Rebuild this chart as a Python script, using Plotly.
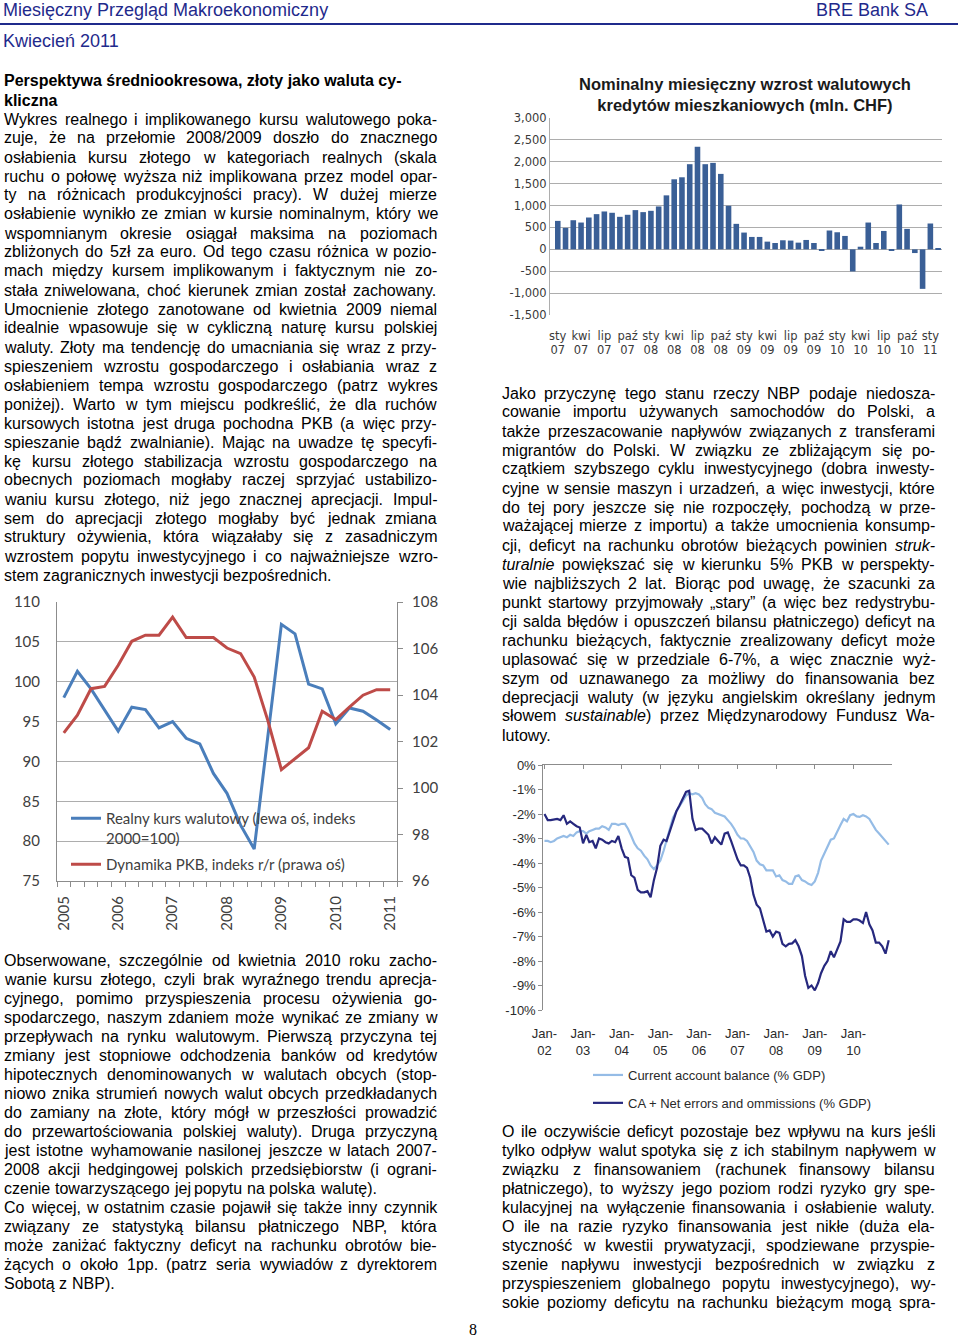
import plotly.graph_objects as go
import pandas as pd

FIG_W, FIG_H = 960, 1338


def px(x):
    return x / FIG_W


def py(y):
    return 1 - y / FIG_H


# ---------------- DATA ----------------
# Chart 1: monthly FX mortgage loan growth (mln CHF), Jan 2007 - Feb 2011
PL_MONTHS = ["sty", "lut", "mar", "kwi", "maj", "cze", "lip", "sie", "wrz", "paź", "lis", "gru"]
loan_labels = [f"{PL_MONTHS[i % 12]} {7 + i // 12:02d}" for i in range(50)]
loan_growth = [650, 490, 665, 612, 727, 804, 865, 835, 743, 789, 896, 850,
               880, 980, 1233, 1600, 1646, 1945, 2343, 1945, 1975, 1723, 995, 582,
               383, 283, 283, 176, 145, 207, 200, 153, 214, 145, -20, 430,
               390, 306, -505, 60, 612, 145, 420, -20, 1025, 467, -85, -903,
               590, 15]
loan_yticks = [-1500, -1000, -500, 0, 500, 1000, 1500, 2000, 2500, 3000]
loan_yticktext = ["-1,500", "-1,000", "-500", "0", "500", "1,000", "1,500", "2,000", "2,500", "3,000"]

# Chart 2: quarterly real FX rate (left) and GDP y/y index (right), 2005Q1 - 2011Q1
quarters = [f"{y}Q{q}" for y in range(2005, 2012) for q in range(1, 5)][:25]
real_fx = [98.0, 101.3, 99.1, 96.4, 93.8, 96.8, 96.5, 94.2, 95.0, 92.9, 92.2, 88.5,
           86.0, 82.0, 79.0, 93.1, 107.2, 106.0, 99.7, 99.1, 94.7, 96.7, 96.3, 95.2, 94.0]
gdp_index = [102.37, 103.13, 104.27, 104.37, 105.28, 106.31, 106.57, 106.57, 107.35,
             106.47, 106.47, 106.47, 106.02, 105.78, 104.77, 102.91, 100.79, 101.26,
             101.73, 103.30, 102.94, 103.48, 103.99, 104.23, 104.23]
year_labels = ["2005", "2006", "2007", "2008", "2009", "2010", "2011"]

# Chart 3: monthly current account (% GDP), Jan 2002 - Dec 2010
ca_balance = [-3.1, -3.1, -3.15, -3.1, -3.0, -2.95, -2.9, -2.95, -2.85, -2.9, -2.75, -2.7,
              -2.7, -2.8, -2.7, -2.65, -2.6, -2.6, -2.5, -2.55, -2.65, -2.4, -2.4, -2.45,
              -2.4, -2.4, -2.6, -2.9, -3.2, -3.4, -3.5, -3.7, -3.85, -4.1, -4.25, -4.1,
              -3.9, -3.5, -3.05, -2.55, -2.15, -1.9, -1.7, -1.45, -1.25, -1.15, -1.2, -1.15,
              -1.2, -1.35, -1.6, -1.75, -1.8, -1.95, -2.0, -2.05, -2.1, -2.25, -2.4, -2.6,
              -2.85, -3.0, -3.0, -3.1, -3.3, -3.55, -3.9, -4.05, -4.1, -4.3, -4.3, -4.3,
              -4.55, -4.5, -4.7, -4.75, -4.85, -4.85, -4.55, -4.5, -4.7, -4.75, -4.85, -4.9,
              -4.75, -4.4, -3.9, -3.6, -3.3, -3.05, -3.0, -2.7, -2.45, -2.2, -2.3, -2.05,
              -2.0, -2.1, -2.12, -2.05, -2.1, -2.2, -2.4, -2.65, -2.8, -2.95, -3.1, -3.25]
ca_errors = [-2.0, -2.25, -2.25, -2.22, -2.2, -2.25, -2.05, -2.4, -2.3, -2.4, -2.5, -2.55,
             -3.2, -2.85, -3.15, -3.1, -3.4, -3.0, -3.05, -3.15, -3.2, -3.1, -3.15, -2.9,
             -3.4, -3.75, -3.8, -4.5, -4.6, -5.1, -5.2, -5.2, -5.15, -5.4, -4.7, -4.2,
             -3.3, -3.05, -3.1, -2.7, -2.3, -1.9, -1.65, -1.4, -1.1, -1.05, -2.2, -2.65,
             -2.6, -2.6, -2.7, -2.85, -3.2, -2.95, -3.1, -3.25, -2.8, -2.75, -3.1, -3.5,
             -3.85, -4.1, -4.1, -4.2, -4.6, -5.3, -5.7, -5.85, -6.3, -6.8, -6.75, -7.0,
             -6.8, -6.85, -7.3, -7.4, -7.3, -7.28, -7.15, -7.4, -7.8, -8.6, -9.1, -9.0,
             -9.2, -8.9, -8.5, -8.2, -8.0, -7.6, -7.85, -7.5, -7.2, -6.3, -6.4, -6.4,
             -6.3, -6.3, -6.35, -6.45, -6.0, -6.5, -6.75, -7.25, -7.25, -7.4, -7.7, -7.15]
ca_dates = pd.date_range("2002-01-01", periods=len(ca_balance), freq="MS")
ca_year_ticks = [d.strftime("%Y-%m-%d") for d in pd.date_range("2002-01-01", "2011-01-01", freq="YS")]
ca_xlabels = ["Jan-<br>02", "Jan-<br>03", "Jan-<br>04", "Jan-<br>05", "Jan-<br>06",
              "Jan-<br>07", "Jan-<br>08", "Jan-<br>09", "Jan-<br>10"]
ca_yticks = [0, -1, -2, -3, -4, -5, -6, -7, -8, -9, -10]
ca_yticktext = ["0%", "-1%", "-2%", "-3%", "-4%", "-5%", "-6%", "-7%", "-8%", "-9%", "-10%"]

# ---------------- TEXT ----------------
heading = ["Perspektywa średniookresowa, złoty jako waluta cy-", "kliczna"]
left_par1 = [
    "Wykres realnego i implikowanego kursu walutowego poka-",
    "zuje, że na przełomie 2008/2009 doszło do znacznego",
    "osłabienia kursu złotego w kategoriach realnych (skala",
    "ruchu o połowę wyższa niż implikowana przez model opar-",
    "ty na różnicach produkcyjności pracy). W dużej mierze",
    "osłabienie wynikło ze zmian w kursie nominalnym, który we",
    "wspomnianym okresie osiągał maksima na poziomach",
    "zbliżonych do 5zł za euro. Od tego czasu różnica w pozio-",
    "mach między kursem implikowanym i faktycznym nie zo-",
    "stała zniwelowana, choć kierunek zmian został zachowany.",
    "Umocnienie złotego zanotowane od kwietnia 2009 niemal",
    "idealnie wpasowuje się w cykliczną naturę kursu polskiej",
    "waluty. Złoty ma tendencję do umacniania się wraz z przy-",
    "spieszeniem wzrostu gospodarczego i osłabiania wraz z",
    "osłabieniem tempa wzrostu gospodarczego (patrz wykres",
    "poniżej). Warto w tym miejscu podkreślić, że dla ruchów",
    "kursowych istotna jest druga pochodna PKB (a więc przy-",
    "spieszanie bądź zwalnianie).  Mając na uwadze tę specyfi-",
    "kę kursu złotego stabilizacja wzrostu gospodarczego na",
    "obecnych poziomach mogłaby raczej sprzyjać ustabilizo-",
    "waniu kursu złotego, niż jego znacznej aprecjacji. Impul-",
    "sem do aprecjacji złotego mogłaby być jednak zmiana",
    "struktury ożywienia, która wiązałaby się z zasadniczym",
    "wzrostem popytu inwestycyjnego i co najważniejsze wzro-",
    "stem zagranicznych inwestycji  bezpośrednich.",
]
left_par2 = [
    "Obserwowane, szczególnie od kwietnia 2010 roku zacho-",
    "wanie kursu złotego, czyli brak wyraźnego trendu aprecja-",
    "cyjnego, pomimo przyspieszenia procesu ożywienia go-",
    "spodarczego, naszym zdaniem może wynikać ze zmiany w",
    "przepływach na rynku walutowym.  Pierwszą przyczyna tej",
    "zmiany jest stopniowe odchodzenia banków od kredytów",
    "hipotecznych denominowanych w walutach obcych (stop-",
    "niowo znika strumień nowych walut obcych przedkładanych",
    "do zamiany na złote, który mógł w przeszłości prowadzić",
    "do przewartościowania polskiej waluty). Druga przyczyną",
    "jest istotne wyhamowanie nasilonej jeszcze w latach 2007-",
    "2008 akcji hedgingowej polskich przedsiębiorstw (i ograni-",
    "czenie towarzyszącego jej popytu na polska walutę).",
]
left_par3 = [
    "Co więcej, w ostatnim czasie pojawił się także inny czynnik",
    "związany ze statystyką bilansu płatniczego NBP, która",
    "może zaniżać faktyczny deficyt na rachunku obrotów bie-",
    "żących o około 1pp. (patrz seria wywiadów z dyrektorem",
    "Sobotą z NBP).",
]
right_par1 = [
    "Jako przyczynę tego stanu rzeczy NBP podaje niedosza-",
    "cowanie importu używanych samochodów do Polski, a",
    "także przeszacowanie napływów związanych z transferami",
    "migrantów do Polski.  W związku ze zbliżającym się po-",
    "czątkiem szybszego cyklu inwestycyjnego (dobra inwesty-",
    "cyjne w sensie maszyn i urzadzeń, a więc inwestycji, które",
    "do tej pory jeszcze się nie rozpoczęły, pochodzą w prze-",
    "ważającej mierze z importu) a także umocnienia konsump-",
    "cji, deficyt na rachunku obrotów bieżących powinien <i>struk-</i>",
    "<i>turalnie</i> powiększać się w kierunku 5% PKB w perspekty-",
    "wie najbliższych 2 lat. Biorąc pod uwagę, że szacunki za",
    "punkt startowy przyjmowały „stary” (a więc bez redystrybu-",
    "cji salda błędów i opuszczeń bilansu płatniczego) deficyt na",
    "rachunku bieżących, faktycznie zrealizowany deficyt może",
    "uplasować się w przedziale 6-7%, a więc znacznie wyż-",
    "szym od uznawanego za możliwy do finansowania bez",
    "deprecjacji waluty (w języku angielskim określany jednym",
    "słowem <i>sustainable</i>) przez Międzynarodowy Fundusz Wa-",
    "lutowy.",
]
right_par2 = [
    "O ile oczywiście deficyt pozostaje bez wpływu na  kurs jeśli",
    "tylko odpływ walut spotyka się z ich stabilnym napływem w",
    "związku z finansowaniem (rachunek finansowy bilansu",
    "płatniczego), to wyższy jego poziom rodzi ryzyko gry spe-",
    "kulacyjnej na wyłączenie finansowania i osłabienie waluty.",
    "O ile na razie ryzyko finansowania jest nikłe (duża ela-",
    "styczność w kwestii prywatyzacji, spodziewane przyspie-",
    "szenie napływu inwestycji bezpośrednich w związku z",
    "przyspieszeniem globalnego popytu inwestycyjnego), wy-",
    "sokie poziomy deficytu na rachunku bieżącym mogą spra-",
]

# Arial / Liberation Sans advance widths (1/1000 em)
AW = {" ": 278, "!": 278, '"': 355, "%": 889, "&": 667, "'": 191, "(": 333, ")": 333,
      ",": 278, "-": 333, ".": 278, "/": 278, ":": 278, ";": 278, "?": 556,
      "A": 667, "B": 667, "C": 722, "D": 722, "E": 667, "F": 611, "G": 778, "H": 722,
      "I": 278, "J": 500, "K": 667, "L": 556, "M": 833, "N": 722, "O": 778, "P": 667,
      "Q": 778, "R": 722, "S": 667, "T": 611, "U": 722, "V": 667, "W": 944, "X": 667,
      "Y": 667, "Z": 611, "a": 556, "b": 556, "c": 500, "d": 556, "e": 556, "f": 278,
      "g": 556, "h": 556, "i": 222, "j": 222, "k": 500, "l": 222, "m": 833, "n": 556,
      "o": 556, "p": 556, "q": 556, "r": 333, "s": 500, "t": 278, "u": 556, "v": 500,
      "w": 722, "x": 500, "y": 500, "z": 500, "ą": 556, "ć": 500, "ę": 556, "ł": 222,
      "ń": 556, "ó": 556, "ś": 500, "ź": 500, "ż": 500, "Ł": 556, "Ś": 667, "Ż": 611,
      "Ź": 611, "Ó": 778, "„": 333, "”": 333}

BODY_FONT = dict(family="Liberation Sans, Arial, sans-serif", size=16, color="#000000")
LINE_H = 19


def word_width(w, size=16):
    plain = w.replace("<i>", "").replace("</i>", "")
    return sum(AW.get(ch, 556) for ch in plain) * size / 1000.0


annotations = []


def add_text(text, x, y, font, xanchor="left"):
    annotations.append(dict(text=text, x=px(x), y=py(y), xref="paper", yref="paper",
                            xanchor=xanchor, yanchor="middle", showarrow=False,
                            borderpad=0, borderwidth=0, font=font))


def add_paragraph(lines, x0, x1, y0, justify_last=False):
    space = word_width(" ")
    for i, line in enumerate(lines):
        y = y0 + i * LINE_H
        words = line.split()
        widths = [word_width(w) for w in words]
        last = (i == len(lines) - 1) and not justify_last
        if last or len(words) < 2:
            gap = space
        else:
            gap = max(2.0, (x1 - x0 - sum(widths)) / (len(words) - 1))
        x = x0
        for w, wd in zip(words, widths):
            add_text(w, x, y, BODY_FONT)
            x += wd + gap


HEAD_FONT = dict(family="Liberation Sans, Arial, sans-serif", size=18, color="#1F2A8C")
add_text("Miesięczny Przegląd Makroekonomiczny", 3, 10, HEAD_FONT)
add_text("BRE Bank SA", 928, 10, HEAD_FONT, xanchor="right")
add_text("Kwiecień 2011", 3, 41, HEAD_FONT)

for i, h in enumerate(heading):
    add_text(f"<b>{h}</b>", 4, 81 + i * LINE_H, BODY_FONT)
add_paragraph(left_par1, 4, 437, 119)
add_paragraph(left_par2, 4, 437, 960)
add_paragraph(left_par3, 4, 437, 1207)
add_paragraph(right_par1, 502, 935, 393)
add_paragraph(right_par2, 502, 935, 1131, justify_last=True)
add_text("8", 469, 1329, dict(family="Liberation Serif, Times New Roman, serif", size=16, color="#000"))

# chart 1 title
annotations.append(dict(text="<b>Nominalny miesięczny wzrost walutowych<br>kredytów mieszkaniowych (mln. CHF)</b>",
                        x=px(745), y=py(94), xref="paper", yref="paper", xanchor="center",
                        yanchor="middle", showarrow=False, align="center",
                        font=dict(family="Liberation Sans, Arial, sans-serif", size=16.5, color="#1a1a1a")))

# ---------------- FIGURE ----------------
fig = go.Figure()

fig.add_trace(go.Bar(x=list(range(len(loan_growth))), y=loan_growth, marker_color="#3A5F96",
                     marker_line_width=0, xaxis="x", yaxis="y", showlegend=False,
                     hovertext=loan_labels))

fig.add_trace(go.Scatter(x=list(range(len(quarters))), y=real_fx, mode="lines",
                         name="Realny kurs walutowy (lewa oś, indeks<br>2000=100)",
                         line=dict(color="#4A7EBB", width=3), xaxis="x2", yaxis="y2",
                         legend="legend", legendgroup="a", hovertext=quarters))
fig.add_trace(go.Scatter(x=list(range(len(quarters))), y=gdp_index, mode="lines",
                         name="Dynamika PKB, indeks r/r (prawa oś)",
                         line=dict(color="#BE4B48", width=3), xaxis="x2", yaxis="y3",
                         legend="legend", legendgroup="b", hovertext=quarters))

fig.add_trace(go.Scatter(x=ca_dates, y=ca_balance, mode="lines",
                         name="Current account balance (% GDP)",
                         line=dict(color="#95BCE6", width=2.2), xaxis="x3", yaxis="y4",
                         legend="legend2", legendgroup="c"))
fig.add_trace(go.Scatter(x=ca_dates, y=ca_errors, mode="lines",
                         name="CA + Net errors and ommissions (% GDP)",
                         line=dict(color="#26287E", width=2.2), xaxis="x3", yaxis="y4",
                         legend="legend2", legendgroup="d"))
# invisible companion trace so the bottom label axis (x4) of chart 3 is instantiated
fig.add_trace(go.Scatter(x=ca_dates, y=ca_balance, mode="lines", opacity=0,
                         line=dict(width=0), xaxis="x4", yaxis="y4", showlegend=False,
                         hoverinfo="skip"))

GRID = "#ADADAD"
AXL = "#8C8C8C"
chart1_font = dict(family="DejaVu Sans, Verdana, sans-serif", size=11.5, color="#3a3a3a")
chart2_font = dict(family="Lato, Carlito, Calibri, sans-serif", size=15, color="#404040")
chart3_font = dict(family="Liberation Sans, Arial, sans-serif", size=13, color="#2a2a2a")
CA_RANGE = ["2001-12-21", "2011-01-04"]

fig.update_layout(
    template="none",
    width=FIG_W, height=FIG_H, autosize=False,
    margin=dict(l=0, r=0, t=0, b=0, pad=0, autoexpand=False),
    paper_bgcolor="white", plot_bgcolor="rgba(0,0,0,0)",
    bargap=0.28,
    annotations=annotations,
    shapes=[dict(type="line", xref="paper", yref="paper", x0=0, x1=px(958), y0=py(24), y1=py(24),
                 line=dict(color="#1F2A8C", width=2))],
    xaxis=dict(domain=[px(550), px(942)], anchor="y", range=[-1.0, 49.5],
               tickvals=list(range(0, 50, 3)),
               ticktext=[loan_labels[i].replace(" ", "<br>") for i in range(0, 50, 3)],
               showgrid=False, zeroline=False, showline=False, ticks="", automargin=False,
               tickfont=chart1_font, ticklabelstandoff=12),
    yaxis=dict(domain=[py(315), py(118)], anchor="x", range=[-1500, 3000],
               tickvals=loan_yticks, ticktext=loan_yticktext, automargin=False,
               showgrid=True, gridcolor=GRID, gridwidth=1, zeroline=False,
               showline=True, linecolor=GRID, ticks="", tickfont=chart1_font),
    xaxis2=dict(domain=[px(57), px(397)], anchor="y2", range=[-0.5, 24.5],
                tickvals=list(range(0, 25, 4)), ticktext=year_labels, tickangle=-90,
                ticks="", showgrid=False, zeroline=False, showline=True, linecolor=AXL,
                minor=dict(ticks="outside", tick0=-0.5, dtick=1, ticklen=5, tickcolor=AXL),
                tickfont=chart2_font, ticklabelstandoff=8, automargin=False),
    yaxis2=dict(domain=[py(881), py(602)], anchor="x2", range=[75, 110], dtick=5,
                showgrid=True, gridcolor=GRID, zeroline=False, showline=True, automargin=False,
                linecolor=AXL, ticks="", tickfont=chart2_font, ticklabelstandoff=13),
    yaxis3=dict(overlaying="y2", side="right", anchor="x2", range=[96, 108], dtick=2,
                showgrid=False, zeroline=False, showline=True, linecolor=AXL, automargin=False,
                ticks="outside", ticklen=5, tickcolor=AXL, tickfont=chart2_font,
                ticklabelstandoff=6),
    xaxis3=dict(domain=[px(543.3), px(892.3)], anchor="y4", side="top", type="date",
                range=CA_RANGE, tickmode="array", tickvals=ca_year_ticks,
                ticks="inside", ticklen=4, tickcolor=AXL, showticklabels=False, automargin=False,
                showline=True, linecolor=AXL, showgrid=False, zeroline=False),
    xaxis4=dict(overlaying="x3", anchor="y4", side="bottom", type="date",
                range=CA_RANGE, tickmode="array", tickvals=ca_year_ticks[:9],
                ticktext=ca_xlabels, ticks="", showline=False, showgrid=False, automargin=False,
                showticklabels=True, zeroline=False, tickfont=chart3_font, ticklabelstandoff=14),
    yaxis4=dict(domain=[py(1010), py(765)], anchor="x3", range=[-10, 0],
                tickvals=ca_yticks, ticktext=ca_yticktext, showline=True, linecolor=AXL,
                ticks="outside", ticklen=4, tickcolor=AXL, showgrid=False, zeroline=False,
                tickfont=chart3_font, automargin=False),
    legend=dict(x=px(66), y=py(802), xanchor="left", yanchor="top",
                bgcolor="rgba(0,0,0,0)", font=chart2_font, valign="top",
                tracegroupgap=4, itemwidth=30),
    legend2=dict(x=px(588), y=py(1060), xanchor="left", yanchor="top",
                 bgcolor="rgba(0,0,0,0)", font=chart3_font, tracegroupgap=8, itemwidth=30),
)

fig.write_html("out.html", config={"displayModeBar": False},
               post_script="document.body.style.margin='0px';")
